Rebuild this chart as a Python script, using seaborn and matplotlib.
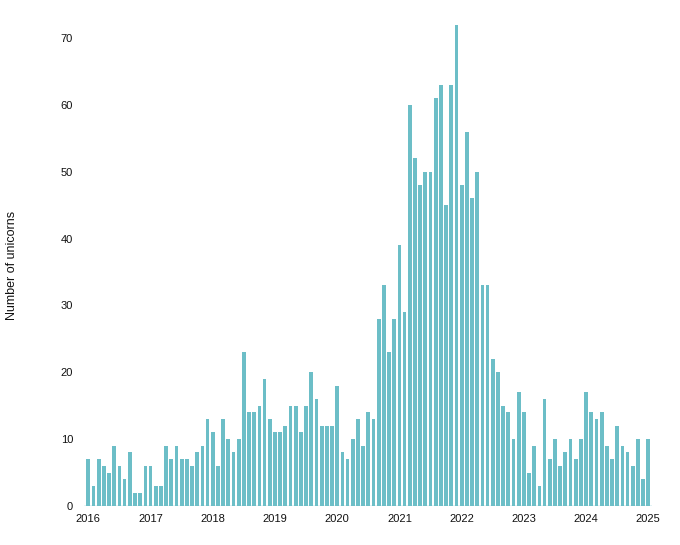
import matplotlib
matplotlib.use("Agg")
import matplotlib.pyplot as plt
import seaborn as sns
import pandas as pd

# Monthly count of new unicorns, Jan 2016 - Jan 2025
months = [d.strftime("%Y-%m") for d in pd.date_range("2016-01-01", "2025-01-01", freq="MS")]
values_2016 = [7, 3, 7, 6, 5, 9, 6, 4, 8, 2, 2, 6]
values_2017 = [6, 3, 3, 9, 7, 9, 7, 7, 6, 8, 9, 13]
values_2018 = [11, 6, 13, 10, 8, 10, 23, 14, 14, 15, 19, 13]
values_2019 = [11, 11, 12, 15, 15, 11, 15, 20, 16, 12, 12, 12]
values_2020 = [18, 8, 7, 10, 13, 9, 14, 13, 28, 33, 23, 28]
values_2021 = [39, 29, 60, 52, 48, 50, 50, 61, 63, 45, 63, 72]
values_2022 = [48, 56, 46, 50, 33, 33, 22, 20, 15, 14, 10, 17]
values_2023 = [14, 5, 9, 3, 16, 7, 10, 6, 8, 10, 7, 10]
values_2024 = [17, 14, 13, 14, 9, 7, 12, 9, 8, 6, 10, 4]
values_2025 = [10]
values = (values_2016 + values_2017 + values_2018 + values_2019 + values_2020
          + values_2021 + values_2022 + values_2023 + values_2024 + values_2025)
year_labels = ["2016", "2017", "2018", "2019", "2020", "2021", "2022", "2023", "2024", "2025"]
y_ticks = [0, 10, 20, 30, 40, 50, 60, 70]

df = pd.DataFrame({"month": months, "count": values})

sns.set_theme(style="white")
plt.rcParams["font.family"] = ["Liberation Sans", "DejaVu Sans"]

BAR = "#6cbec7"
fig = plt.figure(figsize=(6.8, 5.45), dpi=100)
ax = fig.add_axes([0.1238, 0.0716, 0.8357, 0.9017])

sns.barplot(data=df, x="month", y="count", order=months, color=BAR,
            saturation=1, width=0.72, errorbar=None, linewidth=0, ax=ax)
ax.axhline(0, color=BAR, lw=1.0, zorder=3)

ax.set_xlim(-0.8, len(months) - 1 + 0.8)
ax.set_ylim(0, 73.5)
ax.set_xticks([i * 12 for i in range(len(year_labels))])
ax.set_xticklabels(year_labels)
ax.set_yticks(y_ticks)
ax.set_yticklabels([str(t) for t in y_ticks])
ax.tick_params(axis="both", length=0, labelsize=8, colors="#111111")
ax.tick_params(axis="y", pad=8)
ax.tick_params(axis="x", pad=6)

for s in ax.spines.values():
    s.set_visible(False)

ax.set_xlabel("")
ax.set_ylabel("Number of unicorns", fontsize=9, color="#111111")
ax.yaxis.set_label_coords(-0.1165, 0.49)

fig.savefig("out.png", dpi=100)
